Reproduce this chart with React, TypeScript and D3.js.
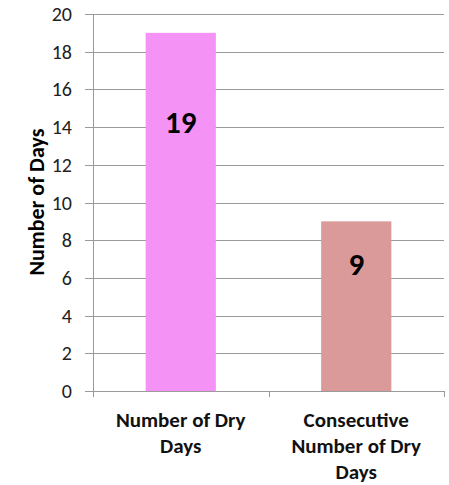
import { useEffect, useRef } from "react";
import * as d3 from "d3";

const categories: string[][] = [
    ["Number of Dry", "Days"],
    ["Consecutive", "Number of Dry", "Days"],
];
const values: number[] = [19, 9];
const barColors: string[] = ["#F592F5", "#DA9A9A"];
const yTicks: number[] = [0, 2, 4, 6, 8, 10, 12, 14, 16, 18, 20];

export default function App() {
    const svgRef = useRef<SVGSVGElement>(null);

    useEffect(() => {
        if (!svgRef.current) return;
        const width = 449;
        const height = 485;
        const left = 93;
        const right = 444;
        const top = 14;
        const bottom = 391;
        const font = "Carlito, 'Open Sans', 'Liberation Sans', sans-serif";

        const svg = d3.select(svgRef.current);
        svg.selectAll("*").remove();
        svg.attr("width", width).attr("height", height);

        const keys = categories.map((c) => c.join(" "));
        const x = d3
            .scaleBand<string>()
            .domain(keys)
            .range([left, right])
            .paddingInner(0.6)
            .paddingOuter(0.3);
        const y = d3.scaleLinear().domain([0, 20]).range([bottom, top]);

        // grid lines
        svg.append("g")
            .selectAll("line")
            .data(yTicks.filter((t) => t > 0))
            .enter()
            .append("line")
            .attr("x1", left)
            .attr("x2", right)
            .attr("y1", (d) => Math.round(y(d)) + 0.5)
            .attr("y2", (d) => Math.round(y(d)) + 0.5)
            .style("stroke", "#9a9a9a")
            .style("stroke-width", 1);

        // bars
        svg.append("g")
            .selectAll("rect")
            .data(values)
            .enter()
            .append("rect")
            .attr("x", (d, i) => x(keys[i]) as number)
            .attr("width", x.bandwidth())
            .attr("y", (d) => y(d))
            .attr("height", (d) => y(0) - y(d))
            .style("fill", (d, i) => barColors[i]);

        // y axis
        const yAxis = svg.append("g");
        yAxis.append("line")
            .attr("x1", left + 0.5)
            .attr("x2", left + 0.5)
            .attr("y1", top)
            .attr("y2", bottom + 6)
            .style("stroke", "#9a9a9a");
        yAxis.selectAll(".tick")
            .data(yTicks)
            .enter()
            .append("line")
            .attr("x1", left - 8)
            .attr("x2", left)
            .attr("y1", (d) => Math.round(y(d)) + 0.5)
            .attr("y2", (d) => Math.round(y(d)) + 0.5)
            .style("stroke", "#9a9a9a");
        yAxis.selectAll("text")
            .data(yTicks)
            .enter()
            .append("text")
            .attr("x", 72)
            .attr("y", (d) => y(d))
            .attr("dy", "0.35em")
            .attr("text-anchor", "end")
            .style("font-family", font)
            .style("font-size", "20px")
            .style("fill", "#222")
            .text((d) => d);

        // x axis
        svg.append("line")
            .attr("x1", left)
            .attr("x2", right)
            .attr("y1", bottom + 0.5)
            .attr("y2", bottom + 0.5)
            .style("stroke", "#9a9a9a");
        const xTicks = [left, (left + right) / 2, right];
        svg.append("g")
            .selectAll("line")
            .data(xTicks)
            .enter()
            .append("line")
            .attr("x1", (d) => Math.round(d) + 0.5)
            .attr("x2", (d) => Math.round(d) + 0.5)
            .attr("y1", bottom)
            .attr("y2", bottom + 6)
            .style("stroke", "#9a9a9a");

        // category labels
        categories.forEach((lines, i) => {
            const cx = (x(keys[i]) as number) + x.bandwidth() / 2;
            svg.append("text")
                .attr("text-anchor", "middle")
                .style("font-family", font)
                .style("font-size", "21px")
                .style("font-weight", "bold")
                .style("fill", "#111")
                .selectAll("tspan")
                .data(lines)
                .enter()
                .append("tspan")
                .attr("x", cx)
                .attr("y", (d, j) => 427 + j * 26)
                .text((d) => d);
        });

        // value labels, a quarter of the way down each bar
        svg.append("g")
            .selectAll("text")
            .data(values)
            .enter()
            .append("text")
            .attr("x", (d, i) => (x(keys[i]) as number) + x.bandwidth() / 2)
            .attr("y", (d) => y(d * 0.75))
            .attr("dy", "0.35em")
            .attr("text-anchor", "middle")
            .style("font-family", font)
            .style("font-size", "31px")
            .style("font-weight", "bold")
            .style("fill", "#000")
            .text((d) => d);

        // y axis title
        svg.append("text")
            .attr("transform", `translate(44,202) rotate(-90)`)
            .attr("text-anchor", "middle")
            .style("font-family", font)
            .style("font-size", "22px")
            .style("font-weight", "bold")
            .style("fill", "#000")
            .text("Number of Days");
    }, []);

    return (
        <div
            style={{
                position: "fixed",
                top: 0,
                left: 0,
                width: 449,
                height: 485,
                background: "#fff",
            }}
        >
            <svg ref={svgRef} style={{ display: "block", overflow: "visible" }}></svg>
        </div>
    );
}
